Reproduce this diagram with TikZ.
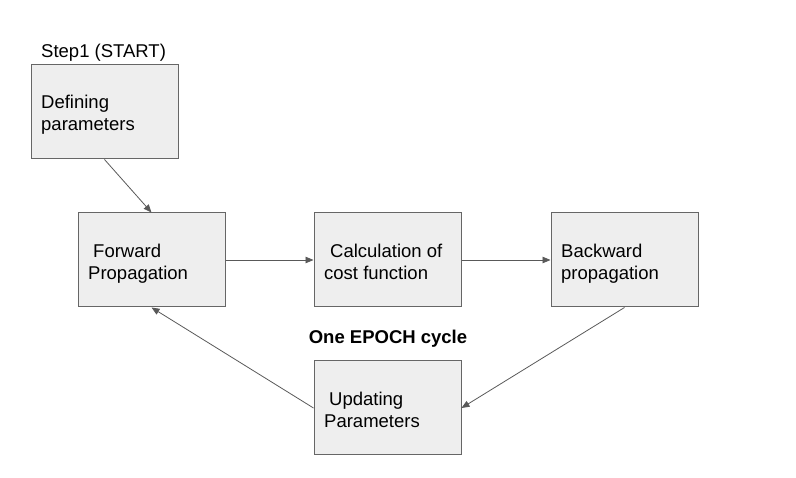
\documentclass[tikz,border=0pt]{standalone}
\usepackage{fontspec}
\setmainfont{Liberation Sans}
\usetikzlibrary{arrows.meta}
\definecolor{boxfill}{HTML}{EEEEEE}
\definecolor{boxline}{HTML}{666666}
\definecolor{arrowc}{HTML}{595959}
\tikzset{
  box/.style={draw=boxline, fill=boxfill, line width=1pt, minimum width=147pt, minimum height=94pt, inner sep=0pt},
  lbl/.style={anchor=base west, inner sep=0pt, font=\fontsize{18.5}{22}\selectfont},
  conn/.style={draw=arrowc, line width=0.8pt, -{Triangle[length=8pt,width=6.5pt]}}
}
\begin{document}
\begin{tikzpicture}[x=1pt,y=-1pt]
\useasboundingbox (0,0) rectangle (796,478);
\node[box] (def) at (104.5,112) {};
\node[box] (fwd) at (151.5,260) {};
\node[box] (calc) at (387.5,260) {};
\node[box] (bwd) at (624.5,260) {};
\node[box] (upd) at (387.5,408) {};

\node[lbl] (step) at (41,57.5) {Step1 (START)};
\node[lbl] (def1) at (41,108.5) {Defining};
\node[lbl] (def2) at (41,130.5) {parameters};
\node[lbl] (fwd1) at (93,257.5) {Forward};
\node[lbl] (fwd2) at (88,279.5) {Propagation};
\node[lbl] (calc1) at (330,257.5) {Calculation of};
\node[lbl] (calc2) at (324,279.5) {cost function};
\node[lbl] (bwd1) at (561,257.5) {Backward};
\node[lbl] (bwd2) at (561,279.5) {propagation};
\node[lbl] (upd1) at (329,405.5) {Updating};
\node[lbl] (upd2) at (324,427.5) {Parameters};
\node[anchor=base, inner sep=0pt, font=\fontsize{18.5}{22}\selectfont\bfseries] (epoch) at (388,343.5) {One EPOCH cycle};

\draw[conn] (def.south) -- (fwd.north);
\draw[conn] (fwd.east) -- (calc.west);
\draw[conn] (calc.east) -- (bwd.west);
\draw[conn] (bwd.south) -- (upd.east);
\draw[conn] (upd.west) -- (fwd.south);
\end{tikzpicture}
\end{document}
